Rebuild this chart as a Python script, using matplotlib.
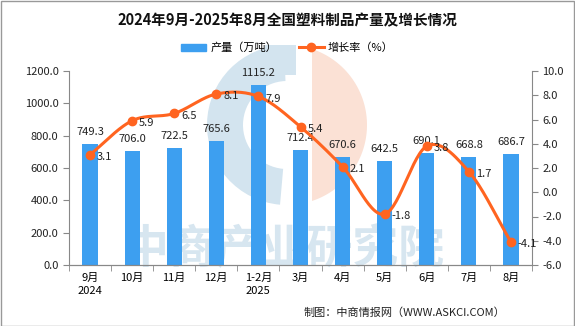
import numpy as np
import matplotlib
matplotlib.use('Agg')
from matplotlib import pyplot as plt
from matplotlib.patches import Wedge, Polygon, Rectangle
from matplotlib.lines import Line2D

plt.rcParams['font.family'] = ['Noto Sans CJK SC', 'DejaVu Sans']
plt.rcParams['axes.unicode_minus'] = False

months = ['9月\n2024', '10月', '11月', '12月', '1-2月\n2025', '3月', '4月', '5月', '6月', '7月', '8月']
output = [749.3, 706.0, 722.5, 765.6, 1115.2, 712.4, 670.6, 642.5, 690.1, 668.8, 686.7]
growth = [3.1, 5.9, 6.5, 8.1, 7.9, 5.4, 2.1, -1.8, 3.8, 1.7, -4.1]

bar_color = '#3d9ff0'
line_color = '#ff6420'
W, H = 575, 326

fig = plt.figure(figsize=(W / 100, H / 100), dpi=100)

# watermark logo and name, in pixel space behind the plot
wm = fig.add_axes([0, 0, 1, 1], zorder=0)
wm.set_xlim(0, W)
wm.set_ylim(H, 0)
wm.axis('off')
cx, cy, r = 287, 125, 80
wm.add_patch(Wedge((cx, cy), r, 95, 268, width=36, color='#d3e4ef', lw=0))
wm.add_patch(Rectangle((265, 45), 31, 30, color='#d3e4ef', lw=0))
ang = np.linspace(-np.pi / 2, np.pi / 2, 80)
arc_x = cx + r * np.cos(ang)
arc_y = cy + r * np.sin(ang)
keep = arc_x >= 311
pts = np.column_stack([arc_x[keep], arc_y[keep]])
wm.add_patch(Polygon(pts, closed=True, color='#fbe1d5', lw=0))
wm.text(284, 250, '中商产业研究院', ha='center', va='center', fontsize=33,
        fontweight='bold', color='#d7e6f0')

ax = fig.add_axes([69 / W, 1 - 265 / H, (532 - 69) / W, (265 - 71) / H], zorder=1)
ax.patch.set_visible(False)
ax2 = ax.twinx()
ax2.patch.set_visible(False)

x = np.arange(len(months))
ax.bar(x, output, width=0.36, color=bar_color, zorder=2)
for xi, v in zip(x, output):
    ax.annotate('%.1f' % v, (xi, v), xytext=(0, 5), textcoords='offset points',
                ha='center', va='bottom', fontsize=8, color='#222222')

ax.set_xlim(-0.5, len(months) - 0.5)
ax.set_ylim(0, 1200)
ax.set_yticks(np.arange(0, 1201, 200))
ax.set_yticklabels(['%.1f' % t for t in np.arange(0, 1201, 200)])
ax.set_xticks(x)
ax.set_xticklabels(months, fontsize=8, linespacing=1.35)
ax.set_xticks(np.arange(-0.5, len(months), 1), minor=True)
ax.tick_params(axis='x', which='major', length=0, pad=6)
ax.tick_params(axis='x', which='minor', length=4, color='#888888', direction='out')
ax.tick_params(axis='y', length=4, color='#888888', labelsize=8, labelcolor='#222222')

# smoothed growth line (Catmull-Rom through the monthly points)
px = np.array(x, dtype=float)
py = np.array(growth, dtype=float)
ex = np.concatenate([[2 * px[0] - px[1]], px, [2 * px[-1] - px[-2]]])
ey = np.concatenate([[2 * py[0] - py[1]], py, [2 * py[-1] - py[-2]]])
sx, sy = [], []
t = np.linspace(0, 1, 30)
for i in range(1, len(ex) - 2):
    for arr, out in ((ex, sx), (ey, sy)):
        p0, p1, p2, p3 = arr[i - 1], arr[i], arr[i + 1], arr[i + 2]
        out.extend(0.5 * (2 * p1 + (-p0 + p2) * t + (2 * p0 - 5 * p1 + 4 * p2 - p3) * t ** 2
                          + (-p0 + 3 * p1 - 3 * p2 + p3) * t ** 3))
ax2.plot(sx, sy, color=line_color, lw=2.2, zorder=3)
ax2.plot(px, py, 'o', color=line_color, ms=6, zorder=4)
for xi, v in zip(px, py):
    ax2.annotate('%.1f' % v, (xi, v), xytext=(5, -1.5), textcoords='offset points',
                 ha='left', va='center', fontsize=8, color='#222222')

ax2.set_ylim(-6, 10)
ax2.set_yticks(np.arange(-6, 10.1, 2))
ax2.set_yticklabels(['%.1f' % t for t in np.arange(-6, 10.1, 2)])
ax2.tick_params(axis='y', length=4, color='#888888', labelsize=8, labelcolor='#222222')

for a in (ax, ax2):
    a.spines['top'].set_visible(False)
    a.spines['left'].set_color('#888888')
    a.spines['right'].set_color('#888888')
    a.spines['bottom'].set_color('#888888')
ax.spines['right'].set_visible(False)
ax2.spines['left'].set_visible(False)

fig.text(0.5, 1 - 20 / H, '2024年9月-2025年8月全国塑料制品产量及增长情况',
         ha='center', va='center', fontsize=10.5, fontweight='bold', color='#111111')
handles = [Rectangle((0, 0), 1, 1, color=bar_color),
           Line2D([], [], color=line_color, lw=2.2, marker='o', ms=6)]
fig.legend(handles, ['产量（万吨）', '增长率（%）'], loc='center', bbox_to_anchor=(0.5, 1 - 48 / H),
           ncol=2, frameon=False, fontsize=8, handlelength=2.2, columnspacing=2.0,
           handletextpad=0.4)
fig.text(505 / W, 1 - 313 / H, '制图：中商情报网（WWW.ASKCI.COM）', ha='right', va='center',
         fontsize=8, color='#222222')
fig.add_artist(Rectangle((0.5 / W, 0.5 / H), 1 - 1.5 / W, 1 - 1.5 / H, transform=fig.transFigure,
                         fill=False, ec='#999999', lw=1))

fig.savefig('out.png', dpi=100)
